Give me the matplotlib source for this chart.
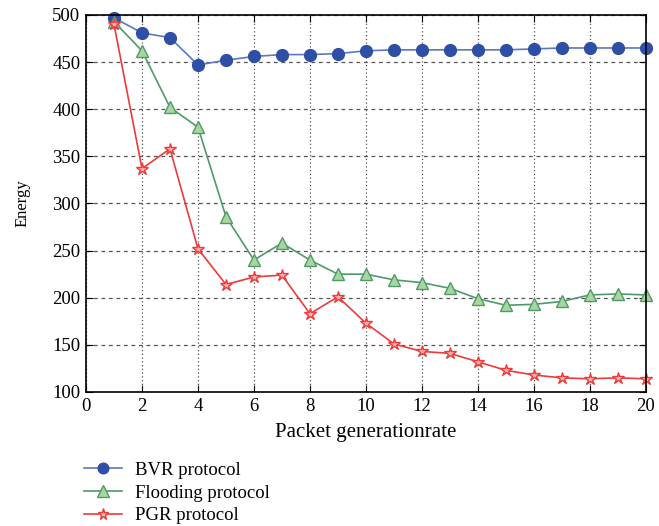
import matplotlib.pyplot as plt

rate = list(range(1, 21))
bvr = [497, 481, 476, 447, 452, 456, 458, 458, 459, 462, 463, 463, 463, 463, 463, 464, 465, 465, 465, 465]
flooding = [493, 462, 402, 381, 286, 240, 258, 240, 225, 225, 219, 216, 210, 199, 192, 193, 196, 203, 204, 203]
pgr = [490, 337, 358, 252, 214, 222, 224, 183, 201, 173, 151, 143, 141, 132, 123, 118, 115, 114, 115, 114]

plt.rcParams['font.family'] = ['Liberation Serif', 'DejaVu Serif']

fig = plt.figure(figsize=(6.59, 5.26), dpi=100)
ax = fig.add_axes([0.1305, 0.2548, 0.8495, 0.7167])

l1, = ax.plot(rate, bvr, color='#5b78c4', lw=1.2, marker='o', ms=8.5,
              mfc='#2f4ea6', mec='#2f4ea6', label='BVR protocol', clip_on=False)
l2, = ax.plot(rate, flooding, color='#4e9a68', lw=1.2, marker='^', ms=9,
              mfc='#a9d6a0', mec='#4e9a68', label='Flooding protocol', clip_on=False)
l3, = ax.plot(rate, pgr, color='#ee3a3a', lw=1.2, marker='*', ms=9,
              mfc='#f7b0b0', mec='#ee3a3a', label='PGR protocol', clip_on=False)

ax.set_xlim(0, 20)
ax.set_ylim(100, 500)
ax.set_xticks(range(0, 21, 2))
ax.set_yticks(range(100, 501, 50))
ax.tick_params(direction='in', top=True, right=True, labelsize=13.5, length=5, pad=4)
ax.yaxis.grid(True, ls=(0, (3, 3)), color='#555555', lw=0.9)
ax.xaxis.grid(True, ls=(0, (1, 2)), color='#555555', lw=0.9)
for s in ax.spines.values():
    s.set_linewidth(1.2)

ax.set_xlabel('Packet generationrate', fontsize=15, labelpad=6)
ax.set_ylabel('Energy', fontsize=12, labelpad=16)

fig.legend(handles=[l1, l2, l3], loc='upper left', bbox_to_anchor=(0.128, 0.122),
           frameon=False, fontsize=13.5, handlelength=2.0, labelspacing=0.3,
           handletextpad=0.7, borderaxespad=0, borderpad=0, markerscale=0.9)

fig.savefig('out.png', dpi=100)
